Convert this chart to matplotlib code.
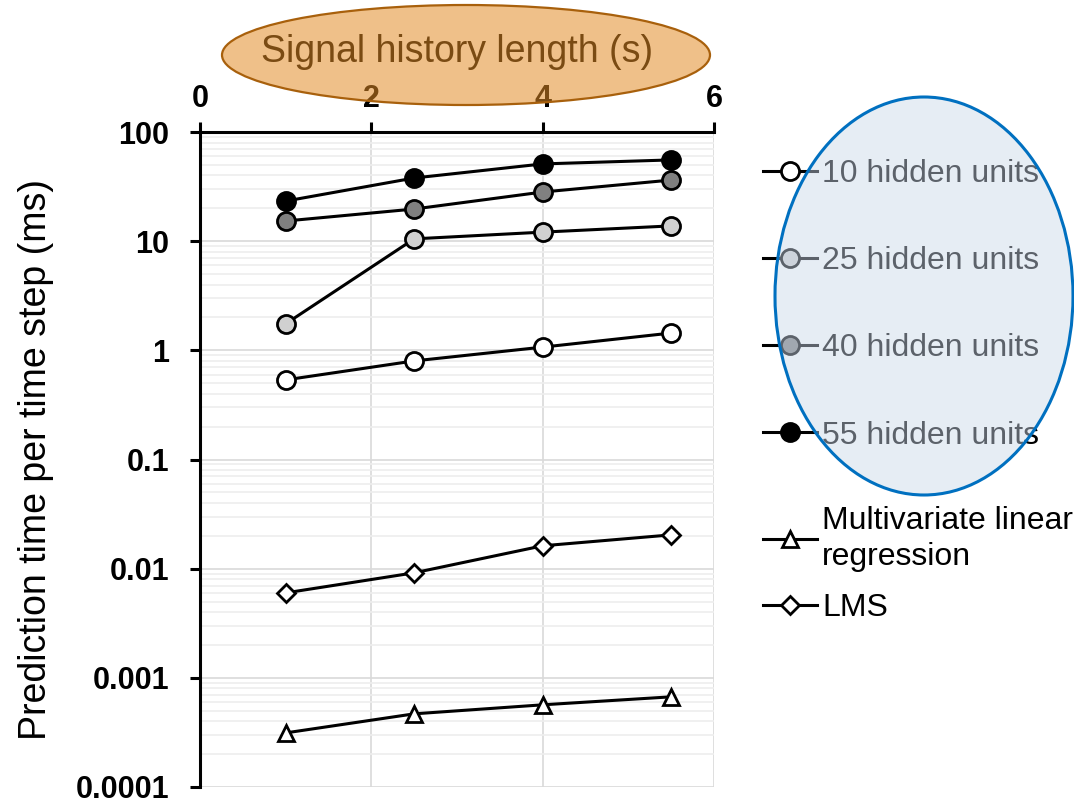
import matplotlib
matplotlib.use("Agg")
import matplotlib.pyplot as plt
from matplotlib.patches import Ellipse
from matplotlib.ticker import FixedLocator, FixedFormatter, LogLocator, NullFormatter

plt.rcParams["font.family"] = ["Liberation Sans", "DejaVu Sans"]

# signal history length (s)
history = [1.0, 2.5, 4.0, 5.5]

# prediction time per time step (ms)
t_10 = [0.536, 0.80, 1.07, 1.44]
t_25 = [1.75, 10.5, 12.1, 13.8]
t_40 = [15.3, 19.7, 28.2, 36.3]
t_55 = [23.3, 37.9, 51.0, 55.5]
t_mlr = [0.000313, 0.000468, 0.000566, 0.00067]
t_lms = [0.0060, 0.00916, 0.0162, 0.0204]

y_ticks = [0.0001, 0.001, 0.01, 0.1, 1, 10, 100]
y_tick_labels = ["0.0001", "0.001", "0.01", "0.1", "1", "10", "100"]
x_ticks = [0, 2, 4, 6]

fig = plt.figure(figsize=(10.74, 8.02), dpi=100)
ax = fig.add_axes([200 / 1074, 1 - 787 / 802, 514 / 1074, 655 / 802])

lw, ms, mew = 2.2, 13, 2.0
h10, = ax.plot(history, t_10, "-o", color="black", lw=lw, ms=ms, mew=mew, mfc="white", mec="black")
h25, = ax.plot(history, t_25, "-o", color="black", lw=lw, ms=ms, mew=mew, mfc="#d0d0d0", mec="black")
h40, = ax.plot(history, t_40, "-o", color="black", lw=lw, ms=ms, mew=mew, mfc="#808080", mec="black")
h55, = ax.plot(history, t_55, "-o", color="black", lw=lw, ms=ms, mew=mew, mfc="black", mec="black")
hmlr, = ax.plot(history, t_mlr, "-^", color="black", lw=lw, ms=12, mew=mew, mfc="white", mec="black")
hlms, = ax.plot(history, t_lms, "-D", color="black", lw=lw, ms=9, mew=mew, mfc="white", mec="black")

ax.set_yscale("log")
ax.set_ylim(0.0001, 100)
ax.set_xlim(0, 6)
ax.yaxis.set_major_locator(FixedLocator(y_ticks))
ax.yaxis.set_major_formatter(FixedFormatter(y_tick_labels))
ax.yaxis.set_minor_locator(LogLocator(base=10, subs=range(2, 10), numticks=20))
ax.yaxis.set_minor_formatter(NullFormatter())
ax.set_xticks(x_ticks)

ax.xaxis.tick_top()
ax.xaxis.set_label_position("top")
ax.tick_params(axis="both", which="major", direction="out", length=7, width=2.2,
               labelsize=22)
ax.tick_params(axis="y", which="major", pad=15)
ax.tick_params(axis="x", which="major", pad=6)
ax.tick_params(axis="y", which="minor", length=0)
for lab in ax.get_xticklabels() + ax.get_yticklabels():
    lab.set_fontweight("bold")

for s in ["right", "bottom"]:
    ax.spines[s].set_visible(False)
for s in ["left", "top"]:
    ax.spines[s].set_linewidth(2.2)

ax.grid(axis="y", which="major", color="#d9d9d9", lw=1.2)
ax.grid(axis="y", which="minor", color="#eeeeee", lw=1.2)
ax.grid(axis="x", which="major", color="#d9d9d9", lw=1.2)
ax.set_axisbelow(True)

ax.set_xlabel("Signal history length (s)", fontsize=27, labelpad=16)
ax.set_ylabel("Prediction time per time step (ms)", fontsize=27, labelpad=16)

leg_kw = dict(frameon=False, fontsize=23, handlelength=1.7, handletextpad=0.15,
              borderpad=0, borderaxespad=0, loc="upper left")
leg1 = fig.legend([h10, h25, h40, h55],
                  ["10 hidden units", "25 hidden units", "40 hidden units", "55 hidden units"],
                  bbox_to_anchor=(763 / 1074, 1 - 159 / 802), labelspacing=1.79, **leg_kw)
leg2 = fig.legend([hmlr, hlms], ["Multivariate linear\nregression", "LMS"],
                  bbox_to_anchor=(763 / 1074, 1 - 506 / 802), labelspacing=0.67,
                  **leg_kw)
for t in leg2.get_texts():
    t.set_linespacing(1.26)

fig.add_artist(Ellipse((466 / 1074, 1 - 55 / 802), 488 / 1074, 100 / 802,
                       transform=fig.transFigure, facecolor=(226 / 255, 139 / 255, 37 / 255, 0.54),
                       edgecolor="#a8600c", lw=1.6, zorder=20))
fig.add_artist(Ellipse((924 / 1074, 1 - 296 / 802), 298 / 1074, 398 / 802,
                       transform=fig.transFigure, facecolor=(202 / 255, 216 / 255, 233 / 255, 0.46),
                       edgecolor="#0070c0", lw=2.2, zorder=20))

fig.savefig("out.png", dpi=100)
